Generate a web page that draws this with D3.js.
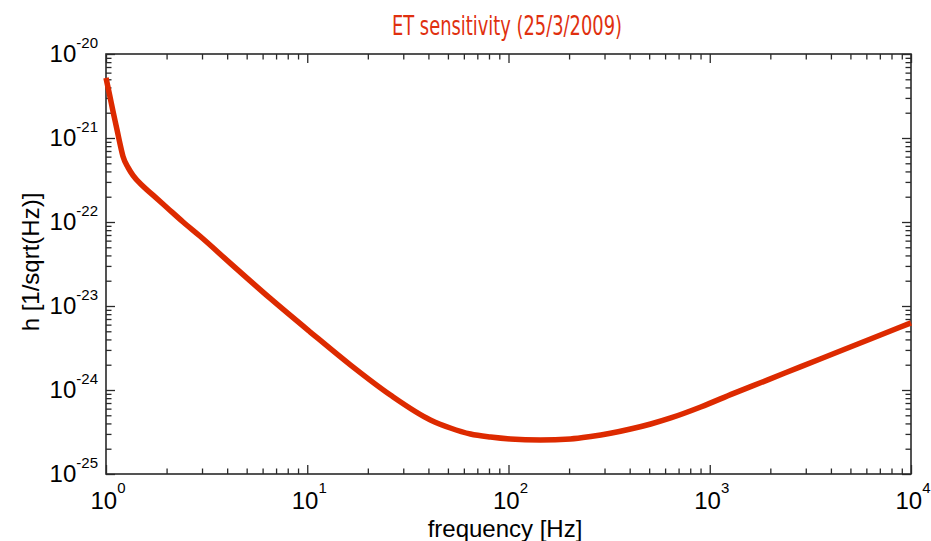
<!DOCTYPE html>
<html>
<head>
<meta charset="utf-8">
<script src="https://cdn.jsdelivr.net/npm/d3@7"></script>
<style>
  body { margin: 0; background: #fff; }
  svg { display: block; }
</style>
</head>
<body>
<div id="plot"></div>
<script>
// ET sensitivity curve
var freq = [1, 1.047, 1.083, 1.134, 1.174, 1.215, 1.286, 1.362, 1.528, 1.713, 2.012, 2.416, 2.936,
            4.14, 6.55, 10.35, 16.37, 25.9, 40.9, 51.4, 64.7, 81.4, 102, 144, 203, 256, 321, 404,
            509, 640, 902, 1315, 1944, 2837, 4141, 6111, 10000];
var strain = [5.2e-21, 3.09e-21, 2.09e-21, 1.26e-21, 8.51e-22, 6.03e-22, 4.47e-22, 3.59e-22, 2.66e-22,
              2.09e-22, 1.48e-22, 1.0e-22, 6.76e-23, 3.24e-23, 1.23e-23, 4.9e-24, 1.99e-24, 8.7e-25,
              4.4e-25, 3.53e-25, 2.99e-25, 2.75e-25, 2.61e-25, 2.54e-25, 2.61e-25, 2.79e-25, 3.05e-25,
              3.43e-25, 3.94e-25, 4.65e-25, 6.28e-25, 9.12e-25, 1.32e-24, 1.9e-24, 2.72e-24, 3.94e-24,
              6.3e-24];

var xExponents = [0, 1, 2, 3, 4];
var yExponents = [-25, -24, -23, -22, -21, -20];

var titleText = "ET sensitivity (25/3/2009)";
var xTitle = "frequency [Hz]";
var yTitle = "h [1/sqrt(Hz)]";

var margin = {top: 54, right: 20, bottom: 67, left: 106},
    width = 931 - margin.left - margin.right,
    height = 541 - margin.top - margin.bottom;

var data = freq.map(function(f, i) { return {f: f, h: strain[i]}; });

var svg = d3.select("div#plot")
  .append("svg")
    .attr("width", 931)
    .attr("height", 541)
  .append("g")
    .attr("transform", "translate(" + margin.left + "," + margin.top + ")");

var x = d3.scaleLog().domain([1, 1e4]).range([0, width]);
var y = d3.scaleLog().domain([1e-25, 1e-20]).range([height, 0]);

// major and minor tick values for each decade
function decades(exps) {
  var major = [], minor = [];
  exps.forEach(function(e, i) {
    major.push(Math.pow(10, e));
    if (i < exps.length - 1) {
      for (var k = 2; k <= 9; k++) minor.push(k * Math.pow(10, e));
    }
  });
  return {major: major, minor: minor};
}
var xt = decades(xExponents), yt = decades(yExponents);

var axisColor = "#2a2a2a";

function styleAxis(g) {
  g.select(".domain").remove();
  g.selectAll("line").attr("stroke", axisColor).attr("stroke-width", 1.3);
}

// ticks pointing inward on all four sides
[[xt.major, 9], [xt.minor, 5.5]].forEach(function(t) {
  svg.append("g").attr("transform", "translate(0," + height + ")")
    .call(d3.axisBottom(x).tickValues(t[0]).tickSize(-t[1]).tickFormat("")).call(styleAxis);
  svg.append("g")
    .call(d3.axisTop(x).tickValues(t[0]).tickSize(-t[1]).tickFormat("")).call(styleAxis);
});
[[yt.major, 9], [yt.minor, 5.5]].forEach(function(t) {
  svg.append("g")
    .call(d3.axisLeft(y).tickValues(t[0]).tickSize(-t[1]).tickFormat("")).call(styleAxis);
  svg.append("g").attr("transform", "translate(" + width + ",0)")
    .call(d3.axisRight(y).tickValues(t[0]).tickSize(-t[1]).tickFormat("")).call(styleAxis);
});

// box
svg.append("rect")
  .attr("width", width)
  .attr("height", height)
  .attr("fill", "none")
  .attr("stroke", axisColor)
  .attr("stroke-width", 1.6);

// the curve
var line = d3.line()
  .x(function(d) { return x(d.f); })
  .y(function(d) { return y(d.h); })
  .curve(d3.curveMonotoneX);

svg.append("path")
  .datum(data)
  .attr("d", line)
  .attr("fill", "none")
  .attr("stroke", "#dd2a00")
  .attr("stroke-width", 5.5)
  .attr("stroke-linejoin", "round");

// tick labels 10^n
var labelFont = "Liberation Sans, Arial, sans-serif";

xExponents.forEach(function(e) {
  var t = svg.append("text")
    .attr("x", x(Math.pow(10, e)) + 2)
    .attr("y", height + 35)
    .attr("text-anchor", "middle")
    .style("font-family", labelFont)
    .style("fill", "#000");
  t.append("tspan").style("font-size", "24px").text("10");
  t.append("tspan").style("font-size", "15px").attr("dy", -16).text(e);
});

yExponents.forEach(function(e) {
  var t = svg.append("text")
    .attr("x", -8)
    .attr("y", y(Math.pow(10, e)) + 8)
    .attr("text-anchor", "end")
    .style("font-family", labelFont)
    .style("fill", "#000");
  t.append("tspan").style("font-size", "24px").text("10");
  t.append("tspan").style("font-size", "15px").attr("dy", -14).text(e);
});

// axis titles
svg.append("text")
  .attr("x", 505 - margin.left)
  .attr("y", 537 - margin.top)
  .attr("text-anchor", "middle")
  .style("font-family", labelFont)
  .style("font-size", "24px")
  .text(xTitle);

svg.append("text")
  .attr("transform", "rotate(-90)")
  .attr("x", -(262 - margin.top))
  .attr("y", 39 - margin.left)
  .attr("text-anchor", "middle")
  .style("font-family", labelFont)
  .style("font-size", "24px")
  .text(yTitle);

// title
svg.append("text")
  .attr("x", 392 - margin.left)
  .attr("y", 35 - margin.top)
  .attr("textLength", 230)
  .attr("lengthAdjust", "spacingAndGlyphs")
  .style("font-family", "Liberation Sans Narrow, DejaVu Sans Condensed, sans-serif")
  .style("font-size", "26px")
  .style("fill", "#e0300f")
  .text(titleText);
</script>
</body>
</html>
